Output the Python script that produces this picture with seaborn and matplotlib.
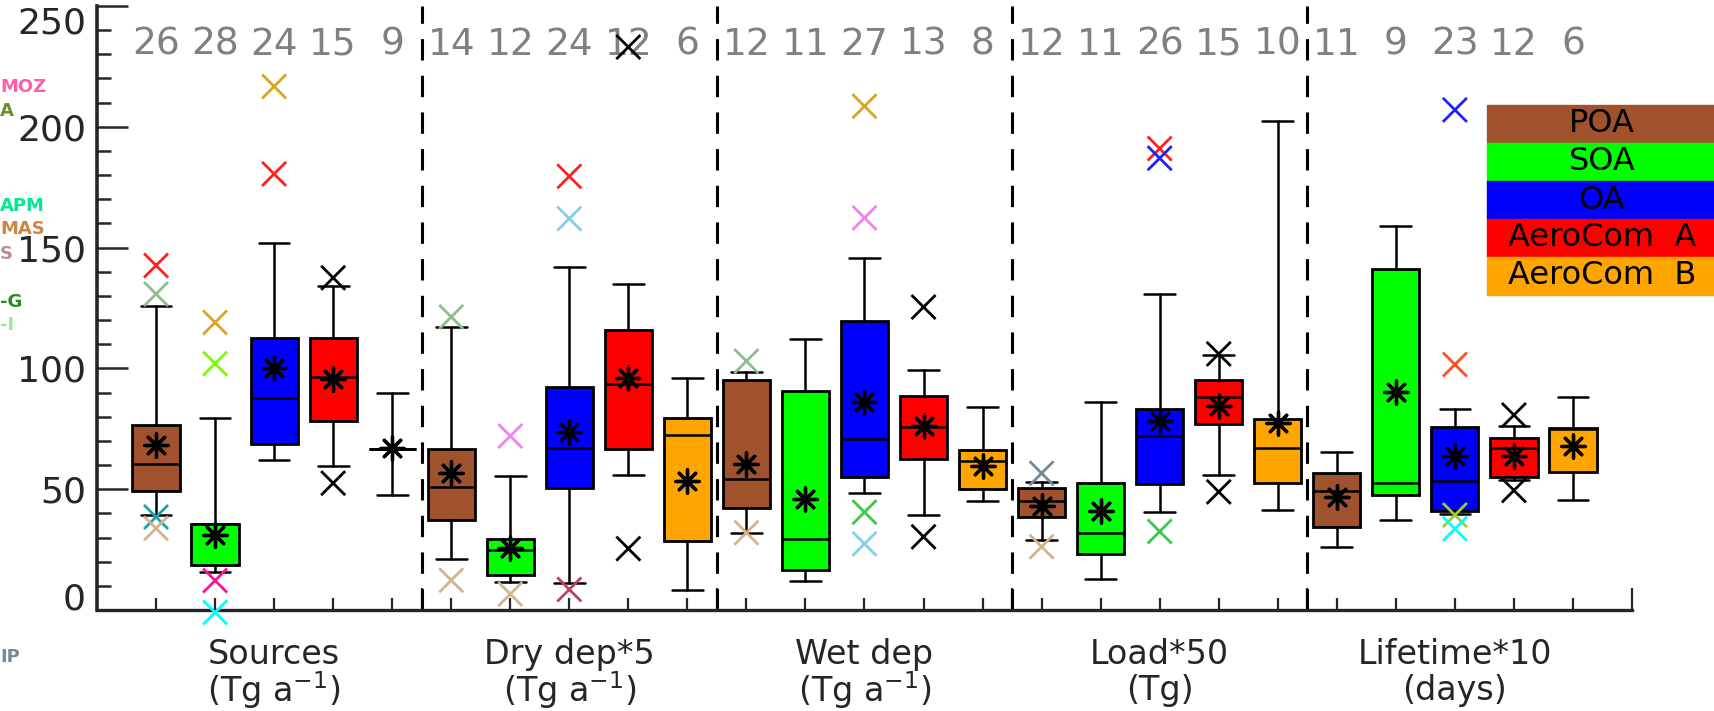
import matplotlib
matplotlib.use("Agg")
import matplotlib.pyplot as plt
import seaborn as sns
import pandas as pd

# --- data ------------------------------------------------------------------
groups = ["Sources", "Dry dep*5", "Wet dep", "Load*50", "Lifetime*10"]
group_units = ["(Tg a$^{-1}$)", "(Tg a$^{-1}$)", "(Tg a$^{-1}$)", "(Tg)", "(days)"]
species = ["POA", "SOA", "OA", "AeroCom  A", "AeroCom  B"]
species_colors = ["#a0522d", "#00ff00", "#0000ff", "#ff0000", "#ffa500"]

counts = [[26, 28, 24, 15, 9],
          [14, 12, 24, 12, 6],
          [12, 11, 27, 13, 8],
          [12, 11, 26, 15, 10],
          [11, 9, 23, 12, 6]]

q1 = [[49.3, 18.8, 68.9, 78.2, 66.5],
      [37.2, 14.3, 50.3, 66.7, 28.7],
      [42.3, 16.4, 54.9, 62.3, 50.0],
      [38.5, 23.0, 52.1, 77.0, 52.5],
      [34.4, 47.5, 41.0, 54.9, 57.0]]
median = [[60.6, 35.4, 87.8, 96.6, 66.5],
          [51.1, 24.9, 66.9, 93.4, 72.5],
          [54.4, 29.2, 70.8, 75.7, 61.8],
          [45.1, 32.0, 72.1, 88.0, 66.9],
          [49.2, 52.5, 53.6, 67.2, 74.9]]
q3 = [[76.4, 35.6, 112.6, 112.4, 66.5],
      [66.7, 29.2, 92.3, 116.0, 79.5],
      [95.0, 90.7, 119.7, 88.5, 66.4],
      [50.3, 52.5, 83.3, 95.0, 79.0],
      [56.6, 141.3, 75.9, 71.3, 75.4]]
whislo = [[39.4, 15.6, 62.0, 59.7, 47.8],
          [21.3, 11.5, 11.1, 56.0, 8.2],
          [32.0, 12.0, 48.4, 39.3, 45.1],
          [29.0, 12.8, 40.7, 56.0, 41.5],
          [25.9, 37.4, 39.7, 54.0, 45.6]]
whishi = [[126.0, 79.4, 152.0, 134.0, 89.9],
          [117.0, 55.4, 142.0, 135.0, 95.9],
          [98.7, 112.3, 145.6, 99.5, 84.1],
          [52.8, 86.0, 131.0, 105.7, 202.5],
          [65.6, 159.0, 83.1, 76.2, 88.2]]
means = [[68.1, 31.0, 100.0, 95.7, 67.2],
         [56.6, 25.7, 73.8, 95.9, 53.3],
         [60.3, 45.9, 86.0, 76.2, 59.8],
         [42.9, 41.0, 78.4, 84.4, 77.4],
         [46.7, 90.2, 63.6, 63.9, 68.0]]

# outliers: group index, species index, value, colour
out_group = [0, 0, 0, 0, 1, 1, 1, 1, 2, 2, 2, 2, 3, 3,
             0, 0, 1, 1, 2, 2, 2, 2, 3, 3, 3, 4, 4, 4, 4,
             0, 0, 1, 1, 3, 3, 4, 4,
             0, 0, 0, 0, 1]
out_species = [0, 0, 0, 0, 0, 0, 1, 1, 0, 0, 3, 3, 0, 0,
               2, 2, 2, 2, 2, 2, 2, 2, 2, 2, 2, 2, 2, 2, 2,
               3, 3, 3, 3, 3, 3, 3, 3,
               1, 1, 1, 1, 2]
out_value = [142.6, 130.8, 38.5, 33.8, 121.3, 12.3, 72.0, 6.6, 103.0, 32.0, 125.4, 30.3, 56.6, 26.2,
             216.7, 180.5, 179.5, 162.0, 208.5, 162.3, 40.5, 27.4, 191.0, 187.0, 32.5, 207.0, 101.6, 39.3, 33.6,
             137.5, 52.5, 25.4, 233.0, 106.0, 48.9, 80.7, 49.5,
             119.0, 102.0, 12.2, -1.0, 8.5]
out_color = ["#ff2020", "#8fbc8f", "#20a0a8", "#d2b48c", "#8fbc8f", "#d2b48c", "#ee82ee", "#d2b48c",
             "#8fbc8f", "#d2b48c", "black", "black", "#778899", "#d2b48c",
             "#daa520", "#ff2020", "#ff2020", "#87ceeb", "#daa520", "#ee82ee", "#3cc84a", "#87ceeb",
             "#ff2020", "#2020ff", "#3cc84a", "#2020ff", "#ff5020", "#9acd32", "#00ffff",
             "black", "black", "black", "black", "black", "black", "black", "black",
             "#daa520", "#7cfc00", "#ff1493", "#00ffff", "#c04060"]

model_labels = ["MOZ", "A", "APM", "MAS", "S", "-G", "-I", "IP"]
model_colors = ["#ff5fa8", "#6b8e23", "#00e890", "#cd853f", "#bc8f8f", "#228b22", "#90ee90", "#778899"]
model_ypix = [87, 111, 206, 229, 254, 302, 325, 657]

# --- plotting ---------------------------------------------------------------
sns.set_style("ticks")
plt.rcParams["font.family"] = ["DejaVu Sans"]

W, H = 1715, 711
fig = plt.figure(figsize=(W / 100, H / 100), dpi=100)
ax = fig.add_axes([97 / W, 101 / H, (1632 - 97) / W, (610 - 6) / H])

stats, positions, faces = [], [], []
for g in range(len(groups)):
    for s in range(len(species)):
        stats.append(dict(q1=q1[g][s], med=median[g][s], q3=q3[g][s],
                          whislo=whislo[g][s], whishi=whishi[g][s], fliers=[]))
        positions.append(g * 5 + s + 1)
        faces.append(species_colors[s])

bp = ax.bxp(stats, positions=positions, widths=0.8, capwidths=0.52,
            patch_artist=True, showfliers=False,
            boxprops=dict(edgecolor="black", linewidth=2.0),
            medianprops=dict(color="black", linewidth=1.8),
            whiskerprops=dict(color="black", linewidth=1.8),
            capprops=dict(color="black", linewidth=1.8))
for patch, fc in zip(bp["boxes"], faces):
    patch.set_facecolor(fc)
    patch.set_zorder(2)

# outliers
out_df = pd.DataFrame({
    "x": [g * 5 + s + 1 for g, s in zip(out_group, out_species)],
    "value": out_value,
    "color": out_color,
})
sns.scatterplot(data=out_df, x="x", y="value", hue="color",
                palette={c: c for c in out_df["color"].unique()},
                marker="x", s=300, linewidth=2.0, legend=False, ax=ax,
                clip_on=False, zorder=5)

# means
mean_df = pd.DataFrame({"x": positions,
                        "value": [means[g][s] for g in range(5) for s in range(5)]})
ax.scatter(mean_df["x"], mean_df["value"], marker=(8, 2, 0), s=280,
           color="black", linewidths=2.4, zorder=6)

# group separators
for g in range(1, len(groups)):
    ax.axvline(g * 5 + 0.5, color="black", lw=2.2, ls=(0, (7, 5)), zorder=1)

# counts on top
for g in range(len(groups)):
    for s in range(len(species)):
        ax.text(g * 5 + s + 1, 234, str(counts[g][s]), ha="center", va="center",
                fontsize=27, color="#808080")

# group labels below
for g in range(len(groups)):
    ax.text(g * 5 + 3, -0.073, groups[g], transform=ax.get_xaxis_transform(),
            ha="center", va="center", fontsize=24)
    ax.text(g * 5 + 3, -0.133, group_units[g], transform=ax.get_xaxis_transform(),
            ha="center", va="center", fontsize=24)

ax.set_xlim(0, 26)
ax.set_ylim(0, 250)
sns.despine(ax=ax, top=True, right=True)
ax.spines["left"].set_linewidth(2.6)
ax.spines["bottom"].set_linewidth(2.4)

ax.set_yticks(range(0, 251, 50))
ax.set_yticks(range(0, 251, 10), minor=True)
ax.tick_params(axis="y", which="major", direction="in", length=22, width=1.8,
               labelsize=26, pad=8)
ax.tick_params(axis="y", which="minor", direction="in", length=10, width=1.8)
ylabels = ax.get_yticklabels()
ylabels[0].set_verticalalignment("baseline")
ylabels[-1].set_verticalalignment("top")
ax.set_xticks([5.5, 10.5, 15.5, 20.5, 26])
ax.set_xticks(range(1, 26), minor=True)
ax.tick_params(axis="x", which="major", direction="in", length=16, width=1.6,
               labelbottom=False)
ax.tick_params(axis="x", which="minor", direction="in", length=9, width=1.6)
ax.set_xlabel("")
ax.set_ylabel("")

# legend as coloured bands (runs off right edge like the original)
band_h = 38
for i, (name, c) in enumerate(zip(species, species_colors)):
    top = 105 + i * band_h
    fig.patches.append(plt.Rectangle((1487 / W, 1 - (top + band_h) / H),
                                     (W - 1487) / W, band_h / H,
                                     transform=fig.transFigure, color=c, zorder=10))
    fig.text(1602 / W, 1 - (top + band_h / 2) / H, name, ha="center", va="center",
             fontsize=23, color="black", zorder=11)

# clipped model names at the left edge
for lab, c, yp in zip(model_labels, model_colors, model_ypix):
    fig.text(0.0, 1 - yp / H, lab, ha="left", va="center", fontsize=13,
             color=c, fontweight="bold")

fig.savefig("out.png", dpi=100)
